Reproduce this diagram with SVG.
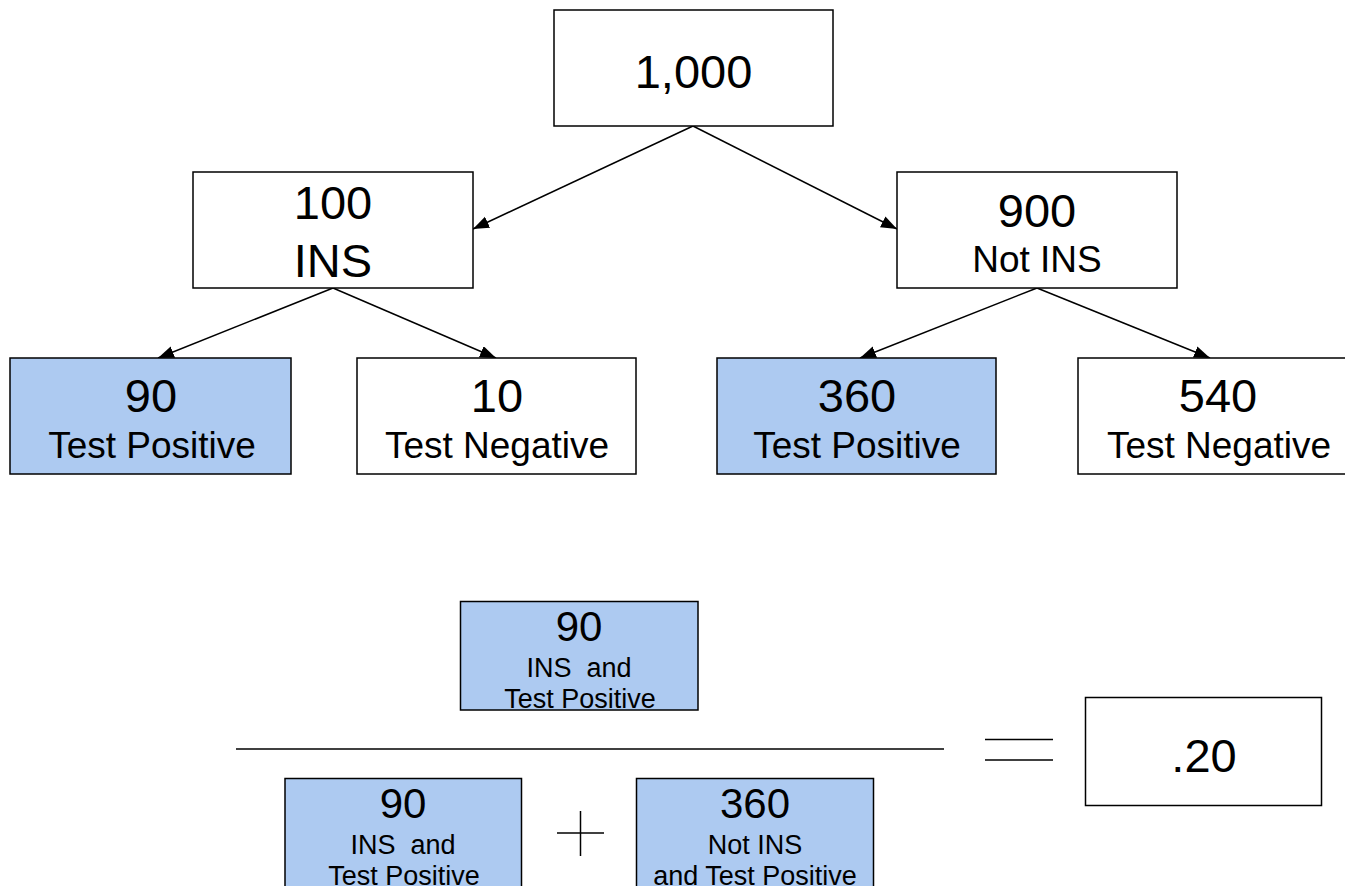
<svg xmlns="http://www.w3.org/2000/svg" width="1345" height="886" viewBox="0 0 1345 886">
<style>
text{font-family:"Liberation Sans",Arial,sans-serif;fill:#000;text-anchor:middle}
.box{fill:#fff;stroke:#000;stroke-width:1.5}
.blue{fill:#adcaf1;stroke:#000;stroke-width:1.5}
.big{font-size:47px}
.sub{font-size:37px}
.bnum{font-size:42px}
.bsub{font-size:27px}
.conn{stroke:#000;stroke-width:1.5;fill:none;marker-end:url(#ah)}
.rule{stroke:#000;stroke-width:1.5;fill:none}
</style>
<defs>
<marker id="ah" markerUnits="userSpaceOnUse" markerWidth="18" markerHeight="14" refX="16" refY="6" orient="auto">
<path d="M0,0 L16,6 L0,12 z" fill="#000"/>
</marker>
</defs>
<rect width="1345" height="886" fill="#fff"/>
<g id="connectors">
<line class="conn" x1="693" y1="126" x2="473" y2="229"/>
<line class="conn" x1="693" y1="126" x2="897" y2="229"/>
<line class="conn" x1="333" y1="288" x2="158" y2="358"/>
<line class="conn" x1="333" y1="288" x2="496" y2="358"/>
<line class="conn" x1="1037" y1="288" x2="860" y2="358"/>
<line class="conn" x1="1037" y1="288" x2="1210" y2="358"/>
</g>
<g id="n1000">
<rect class="box" x="554" y="10" width="279" height="116"/>
<text class="big" x="693.5" y="88">1,000</text>
</g>
<g id="n100">
<rect class="box" x="193" y="172" width="280" height="116"/>
<text class="big" x="333" y="219">100</text>
<text class="big" x="333" y="277">INS</text>
</g>
<g id="n900">
<rect class="box" x="897" y="172" width="280" height="116"/>
<text class="big" x="1037" y="227">900</text>
<text class="sub" x="1037" y="272">Not INS</text>
</g>
<g id="n90tp">
<rect class="blue" x="10" y="358" width="281" height="116"/>
<text class="big" x="151" y="412">90</text>
<text class="sub" x="152" y="458">Test Positive</text>
</g>
<g id="n10tn">
<rect class="box" x="357" y="358" width="279" height="116"/>
<text class="big" x="497" y="412">10</text>
<text class="sub" x="497" y="458">Test Negative</text>
</g>
<g id="n360tp">
<rect class="blue" x="717" y="358" width="279" height="116"/>
<text class="big" x="857" y="412">360</text>
<text class="sub" x="857" y="458">Test Positive</text>
</g>
<g id="n540tn">
<rect class="box" x="1078" y="358" width="282" height="116"/>
<text class="big" x="1218" y="412">540</text>
<text class="sub" x="1219" y="458">Test Negative</text>
</g>
<g id="numerator">
<rect class="blue" x="460.5" y="601.5" width="237.5" height="108.5"/>
<text class="bnum" x="579" y="641">90</text>
<text class="bsub" x="579" y="677">INS&#160; and</text>
<text class="bsub" x="580" y="708">Test Positive</text>
</g>
<g id="fraction">
<line class="rule" x1="236" y1="749" x2="944" y2="749"/>
<line class="rule" x1="985" y1="739.5" x2="1053" y2="739.5"/>
<line class="rule" x1="985" y1="760" x2="1053" y2="760"/>
<line class="rule" x1="557" y1="833" x2="604" y2="833"/>
<line class="rule" x1="580.5" y1="811" x2="580.5" y2="856"/>
</g>
<g id="den90">
<rect class="blue" x="285" y="778.5" width="236.5" height="110"/>
<text class="bnum" x="403" y="818">90</text>
<text class="bsub" x="403" y="854">INS&#160; and</text>
<text class="bsub" x="404" y="885">Test Positive</text>
</g>
<g id="den360">
<rect class="blue" x="636.5" y="778.5" width="237" height="110"/>
<text class="bnum" x="755" y="818">360</text>
<text class="bsub" x="755" y="854">Not INS</text>
<text class="bsub" x="755" y="885">and Test Positive</text>
</g>
<g id="result">
<rect class="box" x="1085.5" y="697.5" width="236" height="108"/>
<text class="big" x="1204" y="772">.20</text>
</g>
</svg>
